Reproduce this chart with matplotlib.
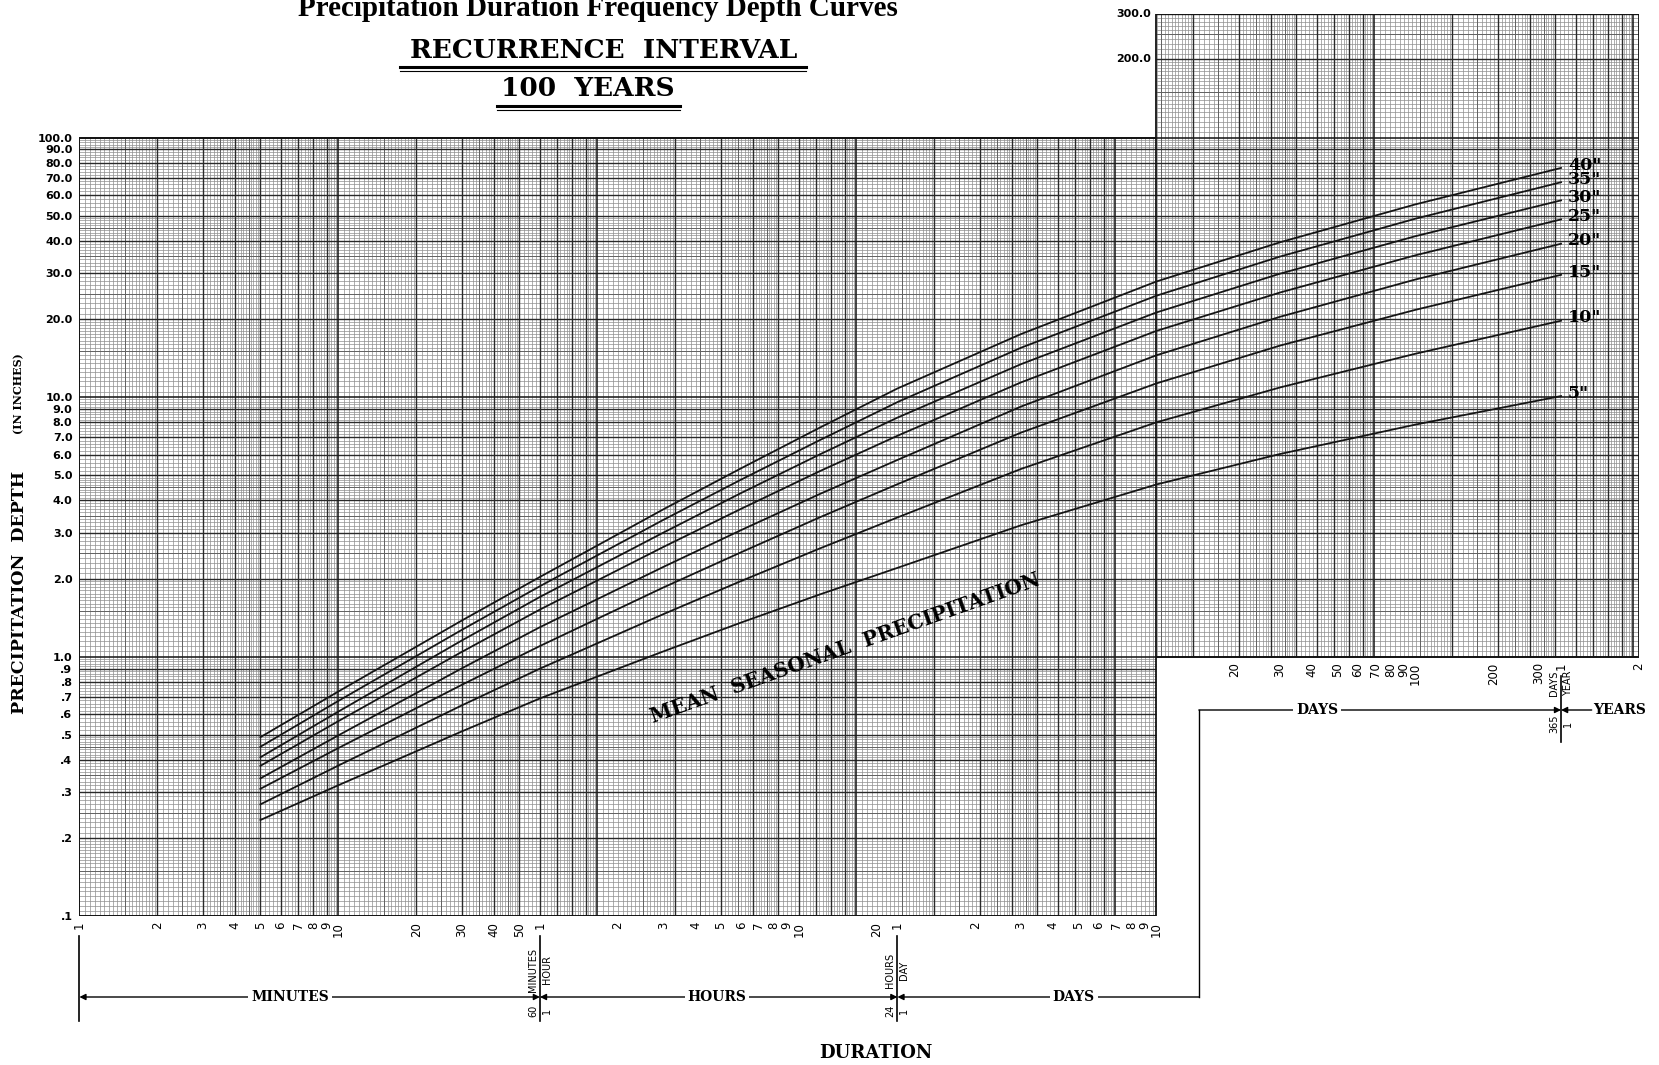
import numpy as np
import matplotlib
matplotlib.use("Agg")
import matplotlib.pyplot as plt
from matplotlib import transforms
from matplotlib.lines import Line2D
from matplotlib.ticker import NullLocator

# ---- data (durations in minutes, depths in inches) ----
durationMin = [5, 10, 30, 60, 180, 360, 720, 1440, 4320, 14400, 43200, 144000, 525600]
seasonalLabels = ['40"', '35"', '30"', '25"', '20"', '15"', '10"', '5"']
depth40 = [0.49, 0.735, 1.38, 2.03, 3.70, 5.33, 7.62, 10.8, 17.5, 27.9, 39.5, 55.3, 76.4]
depth35 = [0.45, 0.676, 1.27, 1.87, 3.37, 4.82, 6.82, 9.57, 15.5, 24.6, 34.8, 48.7, 67.3]
depth30 = [0.41, 0.615, 1.156, 1.70, 3.01, 4.28, 6.01, 8.34, 13.4, 21.2, 29.9, 41.7, 57.3]
depth25 = [0.38, 0.565, 1.045, 1.52, 2.65, 3.72, 5.18, 7.10, 11.4, 18.0, 25.3, 35.2, 48.4]
depth20 = [0.34, 0.498, 0.903, 1.30, 2.22, 3.08, 4.23, 5.73, 9.20, 14.5, 20.4, 28.4, 39.0]
depth15 = [0.31, 0.445, 0.780, 1.10, 1.85, 2.53, 3.44, 4.62, 7.30, 11.3, 15.8, 21.7, 29.6]
depth10 = [0.27, 0.381, 0.65, 0.90, 1.46, 1.96, 2.61, 3.44, 5.29, 8.00, 10.9, 14.7, 19.7]
depth05 = [0.235, 0.320, 0.516, 0.691, 1.049, 1.356, 1.736, 2.20, 3.21, 4.61, 6.04, 7.84, 10.1]
depthCurves = [depth40, depth35, depth30, depth25, depth20, depth15, depth10, depth05]

minuteTicks = [1, 2, 3, 4, 5, 6, 7, 8, 9, 10, 20, 30, 40, 50]
hourTicks = [1, 2, 3, 4, 5, 6, 7, 8, 9, 10, 20]
dayTicks = [1, 2, 3, 4, 5, 6, 7, 8, 9, 10]
longDayTicks = [20, 30, 40, 50, 60, 70, 80, 90, 100, 200, 300]
yearTicks = [1, 2]
depthTicks = [0.1, 0.2, 0.3, 0.4, 0.5, 0.6, 0.7, 0.8, 0.9, 1, 2, 3, 4, 5, 6, 7, 8, 9,
              10, 20, 30, 40, 50, 60, 70, 80, 90, 100]
depthTickLabels = [".1", ".2", ".3", ".4", ".5", ".6", ".7", ".8", ".9", "1.0", "2.0", "3.0",
                   "4.0", "5.0", "6.0", "7.0", "8.0", "9.0", "10.0", "20.0", "30.0", "40.0",
                   "50.0", "60.0", "70.0", "80.0", "90.0", "100.0"]
upperDepthTicks = [200, 300]

MIN_PER_HOUR, MIN_PER_DAY, MIN_PER_YEAR = 60, 1440, 525600
xMin, xMax = 1, 2 * MIN_PER_YEAR
yMin, yMax = 0.1, 300
xSplit = 10 * MIN_PER_DAY   # main sheet ends at 10 days
ySplit = 1.0                # extension sheet starts at 1 inch

fig = plt.figure(figsize=(16.59, 10.65), dpi=100)
ax = fig.add_axes([0.04786, 0.1396, 0.9401, 0.8475])
ax.set_xscale("log")
ax.set_yscale("log")
ax.set_xlim(xMin, xMax)
ax.set_ylim(yMin, yMax)
for s in ax.spines.values():
    s.set_visible(False)

# ---- log paper grid ----
mant = np.round(np.concatenate([np.arange(1, 2, 0.05), np.arange(2, 5, 0.1), np.arange(5, 10, 0.2)]), 3)
def lineKind(m):
    if m == 1: return 3
    if abs(m - round(m)) < 1e-9: return 2
    if m < 5 and abs(m * 2 - round(m * 2)) < 1e-9: return 1
    return 0
styles = {0: (0.5, "#8e8e8e"), 1: (0.7, "#606060"), 2: (1.0, "#2a2a2a"), 3: (1.15, "#1a1a1a")}

for kind in range(4):
    lw, col = styles[kind]
    xsMain, xsRight = [], []
    for e in range(0, 7):
        for m in mant:
            if lineKind(m) != kind: continue
            v = m * 10.0**e
            if v <= xSplit: xsMain.append(v)
            elif v <= xMax: xsRight.append(v)
    ax.vlines(xsMain, yMin, 100, colors=col, linewidths=lw, zorder=1)
    ax.vlines(xsRight, ySplit, yMax, colors=col, linewidths=lw, zorder=1)
    ysLow, ysMid, ysHigh = [], [], []
    for e in range(-1, 3):
        for m in mant:
            if lineKind(m) != kind: continue
            v = m * 10.0**e
            if v < ySplit: ysLow.append(v)
            elif v <= 100: ysMid.append(v)
            elif v <= yMax: ysHigh.append(v)
    ax.hlines(ysLow, xMin, xSplit, colors=col, linewidths=lw, zorder=1)
    ax.hlines(ysMid, xMin, xMax, colors=col, linewidths=lw, zorder=1)
    ax.hlines(ysHigh, xSplit, xMax, colors=col, linewidths=lw, zorder=1)

# sheet borders
bk = dict(colors="#111111", linewidths=1.3, zorder=2)
ax.vlines([xMin], yMin, 100, **bk)
ax.vlines([xSplit], yMin, yMax, **bk)
ax.vlines([xMax], ySplit, yMax, **bk)
ax.hlines([yMin, 100], xMin, xSplit, **bk)
ax.hlines([ySplit, yMax], xSplit, xMax, **bk)

# ---- curves ----
for depth, lab in zip(depthCurves, seasonalLabels):
    ax.plot(durationMin, depth, color="#151515", lw=1.3, zorder=4)
    ax.annotate(lab, (durationMin[-1], depth[-1]), xytext=(5, 2), textcoords="offset points",
                ha="left", va="center", fontsize=12.5, fontweight="bold", family="DejaVu Serif")

# ---- tick labels ----
xTickVals = minuteTicks + [h * MIN_PER_HOUR for h in hourTicks] + [d * MIN_PER_DAY for d in dayTicks]
xTickLabs = [str(v) for v in minuteTicks] + [str(v) for v in hourTicks] + [str(v) for v in dayTicks]
ax.set_xticks(xTickVals, xTickLabs, rotation=90, fontsize=8.5)
ax.set_yticks(depthTicks, depthTickLabels, fontsize=8, fontweight="bold")
ax.xaxis.set_minor_locator(NullLocator())
ax.yaxis.set_minor_locator(NullLocator())
ax.tick_params(length=0)
ax.tick_params(axis="x", pad=4)
ax.tick_params(axis="y", pad=5)

upperX = [d * MIN_PER_DAY for d in longDayTicks] + [y * MIN_PER_YEAR for y in yearTicks]
upperLab = [str(v) for v in longDayTicks] + [str(v) for v in yearTicks]
for v, lab in zip(upperX, upperLab):
    ax.annotate(lab, (v, ySplit), xytext=(0, -4), textcoords="offset points",
                rotation=90, ha="center", va="top", fontsize=8.5)
for v in upperDepthTicks:
    ax.annotate(f"{v:.1f}", (xSplit, v), xytext=(-4, 0), textcoords="offset points",
                ha="right", va="center", fontsize=8, fontweight="bold")

# ---- titles ----
def fy(p):
    return 1 - p / 1065.0
fig.text(0.3605, fy(16), "Precipitation Duration Frequency Depth Curves", ha="center", va="baseline",
         family="Liberation Serif", fontweight="bold", fontsize=21)
fig.text(0.364, fy(50), "RECURRENCE  INTERVAL", ha="center", va="center",
         family="DejaVu Serif", fontweight="bold", fontsize=19)
fig.text(0.3545, fy(88.5), "100  YEARS", ha="center", va="center",
         family="DejaVu Serif", fontweight="bold", fontsize=19)
for x0, x1, y, lw in [(400, 806, 67, 2.2), (400, 806, 71, 0.8), (497, 680, 106, 2.2), (497, 680, 110, 0.8)]:
    fig.add_artist(Line2D([x0 / 1659, x1 / 1659], [fy(y), fy(y)], transform=fig.transFigure, lw=lw, color="k"))

fig.text(0.0115, fy(592), "PRECIPITATION  DEPTH", rotation=90, ha="center", va="center",
         family="DejaVu Serif", fontweight="bold", fontsize=12.5)
fig.text(0.0115, fy(394), "(IN INCHES)", rotation=90, ha="center", va="center",
         family="DejaVu Serif", fontweight="bold", fontsize=8)
fig.text(845 / 1659, fy(648), "MEAN  SEASONAL  PRECIPITATION", rotation=19.6, ha="center", va="center",
         rotation_mode="anchor", family="DejaVu Serif", fontweight="bold", fontsize=14.5)
fig.text(876 / 1659, fy(1053), "DURATION", ha="center", va="center",
         family="DejaVu Serif", fontweight="bold", fontsize=13)

# ---- duration unit scale under the chart ----
bt = transforms.blended_transform_factory(ax.transData, fig.transFigure)
arrowY, yearY = 997, 710
unitFont = dict(family="DejaVu Serif", fontweight="bold", fontsize=10)
smallFont = dict(family="DejaVu Sans", fontsize=7)
arr = dict(color="k", lw=1.0, mutation_scale=9, shrinkA=0, shrinkB=0)

for xv in [1, MIN_PER_HOUR, MIN_PER_DAY]:
    ax.plot([xv, xv], [fy(936), fy(1021)], transform=bt, color="k", lw=1.2, clip_on=False)
ax.plot([MIN_PER_YEAR, MIN_PER_YEAR], [fy(676), fy(742)], transform=bt, color="k", lw=1.2, clip_on=False)

for a, b in [(1, MIN_PER_HOUR), (MIN_PER_HOUR, MIN_PER_DAY)]:
    ax.annotate("", xy=(a, fy(arrowY)), xytext=(b, fy(arrowY)), xycoords=bt, textcoords=bt,
                arrowprops=dict(arrowstyle="<|-|>", **arr), annotation_clip=False)
xConn = 21000
ax.annotate("", xy=(MIN_PER_DAY, fy(arrowY)), xytext=(xConn, fy(arrowY)), xycoords=bt, textcoords=bt,
            arrowprops=dict(arrowstyle="-|>", **arr), annotation_clip=False)
ax.plot([xConn, xConn], [fy(arrowY), fy(yearY)], transform=bt, color="k", lw=1.0, clip_on=False)
ax.annotate("", xy=(MIN_PER_YEAR, fy(yearY)), xytext=(xConn, fy(yearY)), xycoords=bt, textcoords=bt,
            arrowprops=dict(arrowstyle="-|>", **arr), annotation_clip=False)
ax.annotate("", xy=(MIN_PER_YEAR, fy(yearY)), xytext=(690000, fy(yearY)), xycoords=bt, textcoords=bt,
            arrowprops=dict(arrowstyle="-|>", **arr), annotation_clip=False)

wb = dict(fc="white", ec="none", pad=2)
for xv, lab in [(6.5, "MINUTES"), (290, "HOURS"), (6900, "DAYS")]:
    ax.text(xv, fy(arrowY), lab, transform=bt, ha="center", va="center", bbox=wb, zorder=5, **unitFont)
ax.text(60000, fy(yearY), "DAYS", transform=bt, ha="center", va="center", bbox=wb, zorder=5, **unitFont)
ax.text(700000, fy(yearY), "YEARS", transform=bt, ha="left", va="center", zorder=5, **unitFont)

for xv, yl, topL, topR, botL, botR in [(MIN_PER_HOUR, arrowY, "MINUTES", "HOUR", "60", "1"),
                                       (MIN_PER_DAY, arrowY, "HOURS", "DAY", "24", "1"),
                                       (MIN_PER_YEAR, yearY, "DAYS", "YEAR", "365", "1")]:
    for txt, dx, dy in [(topL, -5, -27), (topR, 5, -27), (botL, -5, 14), (botR, 5, 14)]:
        ax.annotate(txt, (xv, fy(yl + dy)), xycoords=bt, xytext=(dx, 0), textcoords="offset points",
                    rotation=90, ha="center", va="center", annotation_clip=False, **smallFont)

fig.savefig("out.png", dpi=100)
plt.close(fig)
